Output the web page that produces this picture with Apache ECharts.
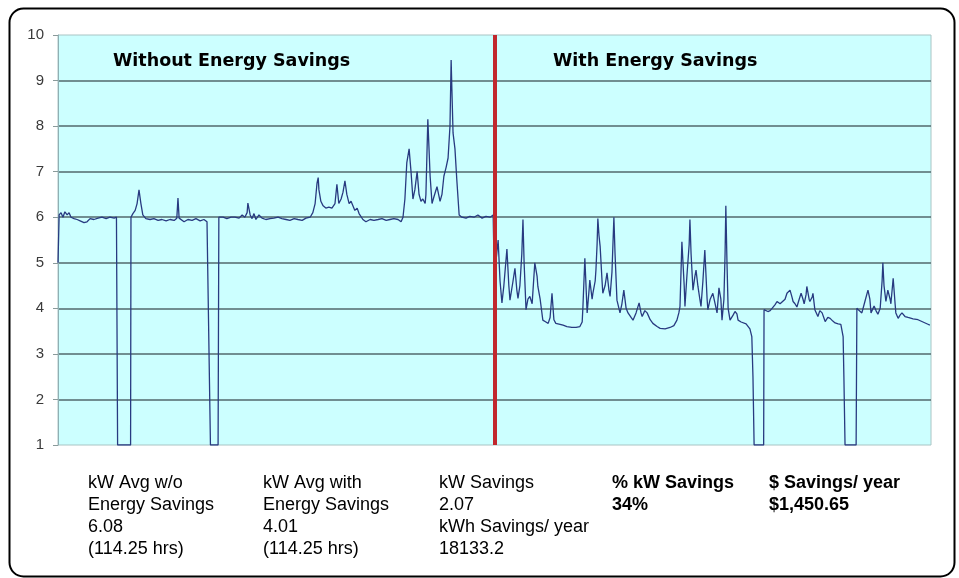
<!DOCTYPE html>
<html>
<head>
<meta charset="utf-8">
<script src="https://cdn.jsdelivr.net/npm/echarts@6/dist/echarts.min.js"></script>
<style>
html,body{margin:0;padding:0;background:#fff;}
#c{width:959px;height:578px;}
</style>
</head>
<body>
<div id="c"></div>
<script>
// Elapsed time (hours) of each reading, and measured demand (kW)
var hours = [
0,0.3,0.8,1.3,1.8,2.4,2.9,3.4,4.2,5.0,5.8,6.8,7.6,8.4,9.4,10.5,11.5,12.6,13.6,14.7,15.3,15.6,19.0,19.1,19.6,20.2,20.7,21.2,21.7,22.2,23.0,24.1,25.1,26.2,27.2,28.3,29.3,30.4,31.1,31.4,31.7,32.2,33.0,34.0,35.1,36.1,37.2,38.2,39.0,39.4,39.9,41.9,42.1,43.2,44.2,45.3,46.3,47.4,48.2,48.9,49.5,49.7,50.3,50.8,51.3,51.8,52.6,53.4,54.4,55.5,56.5,57.6,58.6,59.7,60.7,61.8,62.8,63.9,64.9,66.0,66.7,67.3,67.8,68.1,68.3,68.8,69.4,70.1,70.9,71.7,72.5,73.0,73.5,74.1,74.6,75.1,75.6,76.2,76.7,77.2,77.7,78.3,78.8,79.3,79.8,80.6,81.7,82.7,83.8,84.8,85.9,86.9,87.9,89.0,89.8,90.3,90.8,91.3,91.9,92.4,92.9,93.4,94.0,94.5,95.0,95.5,96.1,96.3,96.8,97.4,97.9,98.4,99.2,100.0,100.5,101.0,101.6,102.1,102.6,102.9,103.1,103.4,103.9,104.4,105.0,105.7,106.8,107.8,108.9,109.9,111.0,112.0,113.1,113.9,
114.3,114.6,115.2,115.7,116.2,116.7,117.5,118.0,118.3,119.1,119.6,120.1,120.4,120.9,121.4,121.7,122.0,122.5,123.0,123.5,124.1,124.8,125.4,125.6,126.2,126.9,127.7,128.3,128.8,129.3,129.8,130.3,131.4,132.2,133.2,134.5,135.6,136.6,137.2,137.4,137.9,138.5,139.0,139.2,139.8,140.0,140.6,140.8,141.1,141.3,141.6,141.9,142.4,142.6,143.2,143.7,144.2,144.5,145.0,145.5,145.8,146.3,147.1,147.6,148.1,148.7,149.2,150.0,150.5,151.3,152.1,152.6,152.9,153.6,154.2,155.0,155.7,156.8,157.6,158.9,160.2,161.2,162.0,162.5,162.8,163.3,163.9,164.1,164.6,165.2,165.4,165.7,166.2,166.7,167.0,167.5,168.0,168.3,168.8,169.3,169.9,170.1,170.7,171.4,172.0,172.5,173.0,173.5,173.8,174.3,174.6,174.8,175.1,175.4,175.9,176.7,177.2,177.7,178.0,178.8,179.3,180.1,180.6,181.1,181.6,181.9,182.2,184.7,184.8,185.3,185.8,186.4,186.9,187.7,188.2,189.0,189.5,190.3,190.8,191.6,192.1,192.4,192.9,193.4,194.0,194.5,195.0,195.3,195.8,196.0,196.6,196.8,197.4,197.6,198.1,198.9,199.4,200.0,200.8,201.5,202.1,202.8,203.4,204.2,204.9,205.5,205.7,206.0,208.9,209.1,209.7,210.4,211.2,212.0,212.5,212.8,213.6,214.1,214.6,215.2,215.7,215.9,216.2,216.7,217.2,217.8,218.0,218.6,219.1,219.3,219.9,220.4,220.9,221.7,222.5,223.0,223.8,224.3,225.1,225.6,226.4,226.9,227.7,228.2
];
var kw = [
5.0,6.05,6.1,6.0,6.12,6.05,6.1,6.0,5.97,5.95,5.92,5.88,5.9,5.97,5.95,5.98,6.0,5.97,6.0,5.98,6.0,1.0,1.0,6.0,6.08,6.15,6.3,6.6,6.3,6.05,5.97,5.95,5.97,5.93,5.95,5.92,5.95,5.93,5.98,6.42,5.98,5.95,5.9,5.95,5.93,5.97,5.92,5.95,5.9,5.9,1.0,1.0,6.0,6.0,5.97,6.0,6.0,5.98,6.05,6.0,6.1,6.31,6.05,5.97,6.08,5.95,6.05,5.98,5.95,5.97,5.98,6.0,5.97,5.95,5.93,5.97,5.95,5.93,5.98,6.0,6.1,6.3,6.75,6.87,6.6,6.35,6.25,6.2,6.22,6.2,6.3,6.72,6.3,6.4,6.55,6.8,6.5,6.3,6.35,6.38,6.15,6.2,6.08,6.1,5.95,5.9,5.95,5.93,5.95,5.97,5.93,5.95,5.97,5.95,5.9,6.0,6.4,7.2,7.5,7.0,6.4,6.6,7.0,6.5,6.35,6.4,6.3,6.5,8.15,6.9,6.3,6.45,6.67,6.35,6.5,6.9,7.1,7.3,8.0,9.45,8.8,7.85,7.5,6.8,6.05,6.0,5.98,6.02,6.0,6.05,5.98,6.02,6.0,6.05,
4.2,5.0,5.5,4.6,4.12,4.5,5.3,4.5,4.18,4.6,4.88,4.4,4.22,4.5,5.2,5.95,5.0,3.97,4.2,4.26,4.1,5.0,4.7,4.48,4.2,3.74,3.7,3.67,3.8,4.33,3.75,3.67,3.65,3.63,3.6,3.58,3.58,3.6,3.7,4.04,5.1,3.9,4.4,4.62,4.2,4.33,4.6,4.84,5.4,5.97,5.6,5.36,4.6,4.33,4.5,4.78,4.4,4.26,4.8,6.0,5.2,4.18,3.9,4.1,4.4,4.0,3.9,3.8,3.74,3.9,4.12,3.9,3.82,3.95,3.9,3.75,3.67,3.6,3.56,3.55,3.58,3.62,3.74,3.9,4.04,5.46,4.5,4.04,4.7,5.4,5.95,5.2,4.4,4.7,4.84,4.48,4.2,4.04,4.6,5.28,4.2,3.97,4.2,4.33,4.1,3.9,4.45,4.2,3.74,4.2,5.2,6.25,5.0,4.0,3.74,3.85,3.93,3.88,3.74,3.7,3.67,3.66,3.65,3.55,3.38,2.5,1.0,1.0,3.97,4.0,3.93,3.95,4.0,4.08,4.15,4.1,4.06,4.2,4.33,4.4,4.25,4.15,4.1,4.03,4.2,4.33,4.2,4.1,4.3,4.48,4.2,4.15,4.25,4.33,3.97,3.82,3.95,3.9,3.71,3.8,3.78,3.72,3.68,3.66,3.65,3.38,2.5,1.0,1.0,4.0,3.95,3.9,4.15,4.4,4.2,3.9,4.05,3.95,3.87,4.0,4.6,5.0,4.5,4.15,4.4,4.2,4.1,4.66,4.1,3.9,3.78,3.85,3.9,3.82,3.8,3.78,3.77,3.74,3.75,3.72,3.7,3.7,3.65,3.63
];
var yTicks = [1,2,3,4,5,6,7,8,9,10];
var dividerHour = 114.25;
var sectionLabels = ["Without Energy Savings", "With Energy Savings"];
var statCol1 = ["kW Avg w/o", "Energy Savings", "6.08", "(114.25 hrs)"];
var statCol2 = ["kW Avg with", "Energy Savings", "4.01", "(114.25 hrs)"];
var statCol3 = ["kW Savings", "2.07", "kWh Savings/ year", "18133.2"];
var statCol4 = ["% kW Savings", "34%"];
var statCol5 = ["$ Savings/ year", "$1,450.65"];

var seriesData = hours.map(function(h, i){ return [h, kw[i]]; });

var chart = echarts.init(document.getElementById('c'), null, {renderer:'canvas'});
var baseFont = 'Liberation Sans, Arial, sans-serif';
function statText(x, lines, bold){
  return {type:'text', left:x, top:472, style:{text:lines.join('\n'), font:(bold?'bold ':'')+'18px Liberation Sans, Arial, sans-serif', fill:'#000', lineHeight:22}};
}
chart.setOption({
  animation:false,
  backgroundColor:'#fff',
  grid:{left:58, right:28, top:35, bottom:133, show:true, backgroundColor:'#ccffff', borderColor:'#a9c4c4', borderWidth:1},
  xAxis:{type:'value', min:0, max:228.5, axisLine:{show:false}, axisTick:{show:false}, axisLabel:{show:false}, splitLine:{show:false}},
  yAxis:{type:'value', min:yTicks[0], max:yTicks[yTicks.length-1], interval:1,
    axisLine:{show:true, lineStyle:{color:'#8fb0b4', width:1}},
    axisTick:{show:true, inside:false, length:5, lineStyle:{color:'#8a9a9a'}},
    axisLabel:{color:'#3a3a3a', fontSize:15, fontFamily:baseFont, margin:14},
    splitLine:{show:true, showMinLine:false, showMaxLine:false, lineStyle:{color:'#52686c', width:1.5}}
  },
  series:[{
    type:'line', data:seriesData, showSymbol:false, symbol:'none',
    lineStyle:{color:'#283a80', width:1.3},
    markLine:{silent:true, symbol:['none','none'], label:{show:false},
      lineStyle:{color:'#c1272d', width:4, type:'solid'},
      data:[{xAxis:dividerHour}]}
  }],
  graphic:[
    {type:'rect', left:7, top:6, shape:{x:0,y:0,width:945,height:568,r:14}, style:{fill:'none', stroke:'#000', lineWidth:2}},
    {type:'text', left:113, top:52, style:{text:sectionLabels[0], font:'bold 17.5px DejaVu Sans, sans-serif', fill:'#000'}},
    {type:'text', left:553, top:52, style:{text:sectionLabels[1], font:'bold 17.5px DejaVu Sans, sans-serif', fill:'#000'}},
    statText(88, statCol1, false),
    statText(263, statCol2, false),
    statText(439, statCol3, false),
    statText(612, statCol4, true),
    statText(769, statCol5, true)
  ]
});
</script>
</body>
</html>
